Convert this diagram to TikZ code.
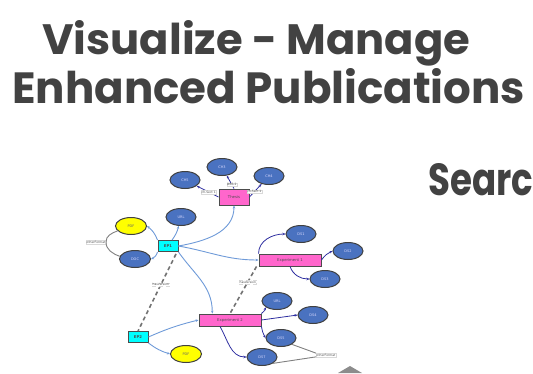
\documentclass[tikz,border=0pt]{standalone}
\usepackage{fontspec}
\setmainfont{DejaVu Sans}
\newfontfamily\ttlfont{Poppins}
\usetikzlibrary{arrows.meta,shapes.geometric}
\definecolor{ttl}{HTML}{424242}
\definecolor{ellb}{HTML}{4A72C0}
\definecolor{lightedge}{HTML}{6E9AD8}
\definecolor{darkedge}{HTML}{2E2EA0}
\definecolor{mag}{HTML}{FF66CC}
\definecolor{cyn}{HTML}{00FFFF}
\definecolor{yel}{HTML}{FFFF00}
\tikzset{
  ell/.style={ellipse,draw=black!75,line width=1pt,fill=ellb,minimum width=30pt,minimum height=17pt,inner sep=0pt,font=\fontsize{3.5}{4}\selectfont,text=white!85!blue},
  yelnode/.style={ell,fill=yel,text=black!60},
  magbox/.style={rectangle,draw=black!70,line width=0.9pt,fill=mag,inner sep=1pt,font=\fontsize{3.8}{4}\selectfont,text=black!70},
  cyanbox/.style={rectangle,draw=black!70,line width=0.9pt,fill=cyn,minimum width=20pt,minimum height=11pt,inner sep=0pt,font=\fontsize{3.8}{4}\selectfont\bfseries,text=black!70},
  lite/.style={draw=lightedge,line width=0.9pt,-{Stealth[length=3pt,width=2.5pt]}},
  dark/.style={draw=darkedge,line width=0.8pt,-{Stealth[length=3pt,width=2.5pt]}},
  dsh/.style={draw=black!55,line width=1.6pt,dash pattern=on 4pt off 3pt},
  gry/.style={draw=black!50,line width=0.9pt},
  elab/.style={fill=white,draw=black!15,line width=0.2pt,inner sep=0.6pt,font=\fontsize{3}{3.5}\selectfont,text=black!70},
  ttlstyle/.style={text=ttl,inner sep=0pt,anchor=base west,font=\ttlfont\bfseries}
}
\begin{document}
\begin{tikzpicture}[x=1pt,y=-1pt]
\useasboundingbox (0,0) rectangle (533,373);
\node[ttlstyle] (t1) at (42,54) {\resizebox{428pt}{34pt}{Visualize - Manage}};
\node[ttlstyle] (t2) at (12,103) {\resizebox{513pt}{35pt}{Enhanced Publications}};
\node[ttlstyle] (srch) at (428,195) {\resizebox{105pt}{32pt}{Searc}};
\fill[black!45] (338,373) -- (350,366) -- (362,373) -- cycle;
% nodes
\node[ell] (ch5) at (185,180) {CH5};
\node[ell] (ch3) at (222,167) {CH3};
\node[ell] (ch4) at (269,176) {CH4};
\node[magbox,minimum width=30pt,minimum height=16pt] (thesis) at (234,197) {Thesis};
\node[ell] (url1) at (181,217) {URL};
\node[yelnode,minimum width=31pt] (pdf1) at (131,226) {PDF};
\node[ell,minimum width=31pt] (doc) at (135,259) {DOC};
\node[cyanbox] (ep1) at (168,246) {EP1};
\node[magbox,minimum width=62pt,minimum height=12pt] (exp1) at (290,260) {Experiment 1};
\node[ell] (ds1) at (301,234) {DS1};
\node[ell] (ds2) at (348,251) {DS2};
\node[ell] (ds3) at (325,279) {DS3};
\node[magbox,minimum width=62pt,minimum height=12pt] (exp2) at (230,320) {Experiment 2};
\node[ell] (url2) at (277,301) {URL};
\node[ell] (ds4) at (313,315) {DS4};
\node[ell] (ds5) at (281,338) {DS5};
\node[ell] (ds7) at (262,357) {DS7};
\node[cyanbox] (ep2) at (138,337) {EP2};
\node[yelnode,minimum width=31pt] (pdf2) at (186,354) {PDF};
% thesis edges
\draw[dark] (thesis.west) -- node[elab,pos=0.45] {ch-Sect 1} (ch5);
\draw[dark] (thesis.north) -- node[elab,pos=0.3] {DBS-2} (ch3);
\draw[dark] (thesis.east) -- node[elab,pos=0.4] {ch-Sect 1} (ch4);
% EP1 edges
\draw[lite] (ep1) to[bend right=10] (url1);
\draw[lite] (ep1.north west) to[bend right=15] (pdf1.east);
\draw[lite] (ep1.south west) to[bend left=25] (doc.east);
\draw[lite] (ep1.east) to[out=10,in=-90] (thesis.south);
\draw[lite] (ep1.east) to[out=-10,in=180] (exp1.west);
\draw[lite] (ep1.south east) to[out=-55,in=90] (exp2.160);
% EP2
\draw[lite] (ep2.east) to[bend left=5] (exp2.west);
\draw[lite] (ep2.south east) to[bend right=10] (pdf2.west);
% experiment 1
\draw[dark] (exp1.north west) to[out=90,in=180] (ds1.west);
\draw[dark] (exp1.east) to[bend left=15] (ds2.west);
\draw[dark] (exp1.south) to[out=-70,in=180] (ds3.west);
% experiment 2
\draw[dark] (exp2.north east) to[out=30,in=240] (url2.south west);
\draw[dark] (exp2.east) -- (ds4.west);
\draw[dark] (exp2.south east) to[bend right=10] (ds5.west);
\coordinate (e2b) at ([xshift=-10pt]exp2.south);
\draw[dark] (e2b) to[out=-60,in=180] (ds7.west);
% dashed
\coordinate (d1) at ([xshift=8pt,yshift=-2pt]ep1.south);
\draw[dsh] (d1) -- node[elab,pos=0.4] {hasVersion} (ep2.north);
\coordinate (d2) at ([xshift=-2pt]exp1.south west);
\draw[dsh] (d2) -- node[elab,pos=0.33] {hasVersion} (exp2.north);
% other format curves
\node[elab] (of1) at (96,242) {otherFormat};
\draw[gry] (pdf1.200) to[out=200,in=90] (of1.east);
\draw[gry] (of1.east) to[out=-90,in=160] (doc.170);
\node[elab] (of2) at (326,355) {otherFormat};
\draw[gry] (ds5.south east) -- (of2.north west);
\draw[gry] (of2.south west) -- (ds7.south east);
\end{tikzpicture}
\end{document}
